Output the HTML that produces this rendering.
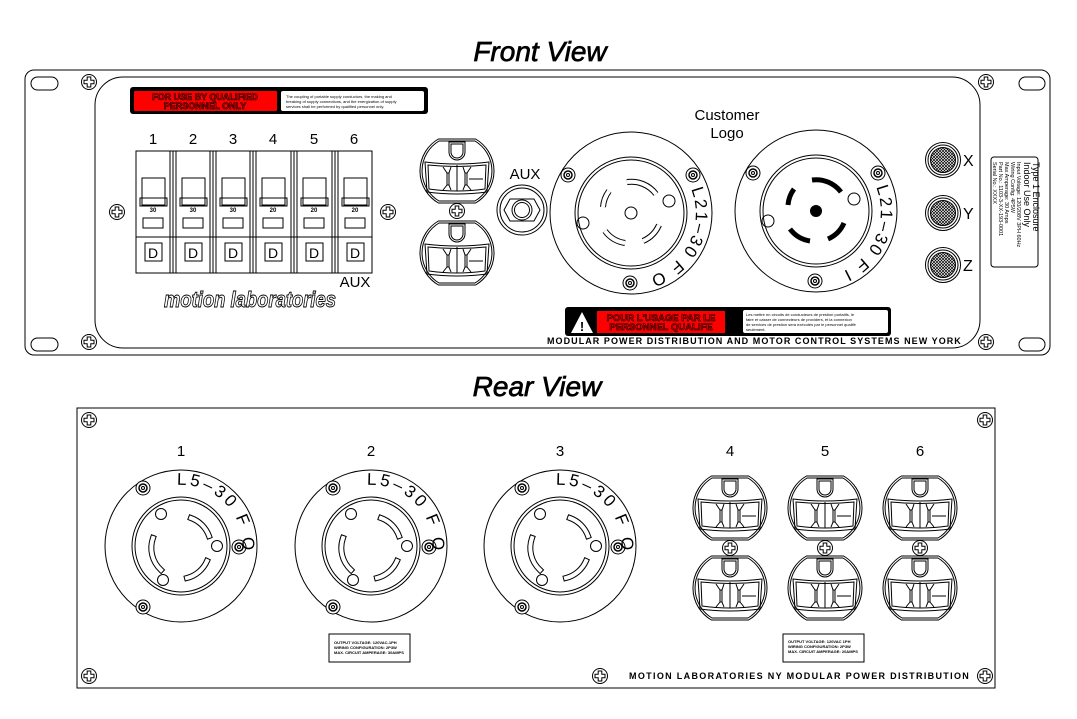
<!DOCTYPE html>
<html><head><meta charset="utf-8"><style>
html,body{margin:0;padding:0;background:#fff}
svg{display:block}
text{font-family:"Liberation Sans",sans-serif}
</style></head><body>
<svg width="1077" height="719" viewBox="0 0 1077 719" xmlns="http://www.w3.org/2000/svg">
<defs>
<pattern id="mesh" width="3" height="3" patternUnits="userSpaceOnUse">
<rect width="3" height="3" fill="#fff"/><path d="M0,0L3,3M3,0L0,3" stroke="#000" stroke-width="0.7"/>
</pattern>
<g id="screw"><circle r="7.5" fill="#fff" stroke="#000" stroke-width="1"/><path d="M-1.8,-5h3.6v3.2h3.2v3.6h-3.2v3.2h-3.6v-3.2h-3.2v-3.6h3.2z" fill="none" stroke="#000" stroke-width="1"/></g>
<g id="mscrew"><circle r="7" fill="#fff" stroke="#000"/><circle r="4" fill="none" stroke="#000" stroke-width="1.5"/><circle r="1.5"/></g>
<g id="outlet" fill="none" stroke="#000" stroke-width="1">
<path d="M-18.6,-32H18.6A37,37 0 0 1 18.6,32H-18.6A37,37 0 0 1 -18.6,-32Z" fill="#fff"/>
<path d="M-18,-30H18A35,35 0 0 1 18,30H-18A35,35 0 0 1 -18,-30Z"/>
<path d="M-8,-29v10a8,8 0 0 0 16,0v-10z"/>
<path d="M-6,-27v8a6,6 0 0 0 12,0v-8z"/>
<path d="M-32,-9Q0,-5 32,-9L30,21Q0,25 -30,21Z"/>
<path d="M-29,-6Q0,-3 29,-6L28,18Q0,22 -28,18Z"/>
<path d="M0,-6V20M-14,-4L-10,2V14L-14,19M-6,-4L-8,2V14L-6,19M-10,2H-8M-10,14H-8M14,-4L10,2V14L14,19M6,-4L8,2V14L6,19M10,2H8M10,14H8M12,8H26"/>
</g>
<g id="l530" fill="none" stroke="#000" stroke-width="1">
<circle r="76" fill="#fff"/><circle r="49"/><circle r="46"/>
<circle cx="-20" cy="-32" r="5.5"/><circle cx="36" cy="0" r="5.5"/><circle cx="-18" cy="34" r="5.5"/>
<path d="M10,-28A30,30 0 0 1 28,-10M-28,-8A30,30 0 0 0 -20,24M26,15A30,30 0 0 1 6,32" stroke-width="6" stroke-linecap="square"/>
<path d="M10,-28A30,30 0 0 1 28,-10M-28,-8A30,30 0 0 0 -20,24M26,15A30,30 0 0 1 6,32" stroke="#fff" stroke-width="4" stroke-linecap="square"/>
<use href="#mscrew" x="-38" y="-58"/><use href="#mscrew" x="-38" y="61"/><use href="#mscrew" x="58" y="1"/>
</g>
<path id="arc5" d="M-4,-61A61,61 0 0 1 61,8"/>
<path id="arc21" d="M60,-24A66,66 0 0 1 -34,58"/>
<g id="l21base" fill="none" stroke="#000" stroke-width="1">
<circle r="81" fill="#fff"/><circle r="56"/><circle r="53"/>
<circle cx="38" cy="-12" r="6"/><circle cx="-48" cy="10" r="6"/>
<use href="#mscrew" x="-63" y="-38"/><use href="#mscrew" x="62" y="-38"/><use href="#mscrew" x="-1" y="70"/>
</g>
<g id="breaker" fill="none" stroke="#000" stroke-width="1">
<path d="M6,27h23v27h-23z M6,27v20h23v-20"/>
<path d="M4,47h27v8h-27z"/>
<rect x="7" y="67" width="20" height="10"/>
<rect x="9" y="92" width="17" height="18"/>
</g>
<g id="xyz"><circle r="17.5" fill="#fff" stroke="#000"/><circle r="15" fill="none" stroke="#000"/><circle r="12.5" fill="url(#mesh)" stroke="#000"/></g>
</defs>

<!-- FRONT -->
<text x="540" y="61" font-size="28" font-style="italic" text-anchor="middle" stroke="#000" stroke-width="0.7">Front View</text>
<rect x="25" y="70" width="1025" height="285" rx="9" fill="none" stroke="#000"/>
<rect x="31" y="77" width="27" height="13" rx="6.5" fill="none" stroke="#000"/>
<rect x="31" y="338" width="27" height="13" rx="6.5" fill="none" stroke="#000"/>
<rect x="1019" y="77" width="26" height="13" rx="6.5" fill="none" stroke="#000"/>
<rect x="1019" y="338" width="26" height="13" rx="6.5" fill="none" stroke="#000"/>
<rect x="95" y="77" width="885" height="271" rx="28" fill="none" stroke="#000"/>
<use href="#screw" x="89" y="82"/><use href="#screw" x="89" y="342"/>
<use href="#screw" x="986" y="82"/><use href="#screw" x="986" y="342"/>
<use href="#screw" x="117" y="212"/><use href="#screw" x="388" y="212"/>

<rect x="130" y="87" width="298" height="27" rx="3" fill="#000"/>
<rect x="134" y="91" width="143" height="20" rx="1" fill="#f00"/>
<rect x="281" y="91" width="143" height="20" rx="2" fill="#fff"/>
<text x="205" y="100" font-size="9" font-weight="bold" text-anchor="middle" fill="#f00" stroke="#000" stroke-width="0.6">FOR USE BY QUALIFIED</text>
<text x="205" y="109" font-size="9" font-weight="bold" text-anchor="middle" fill="#f00" stroke="#000" stroke-width="0.6">PERSONNEL ONLY</text>
<text x="286" y="98" font-size="4" >The coupling of portable supply conductors, the making and</text>
<text x="286" y="103" font-size="4">breaking of supply connections, and the energization of supply</text>
<text x="286" y="108" font-size="4">services shall be performed by qualified personnel only.</text>

<g font-size="15" text-anchor="middle"><text x="153" y="144">1</text><text x="193" y="144">2</text><text x="233" y="144">3</text><text x="273" y="144">4</text><text x="314" y="144">5</text><text x="354" y="144">6</text></g>
<rect x="136" y="151" width="236" height="122" fill="none" stroke="#000"/>
<line x1="136" y1="237" x2="372" y2="237" stroke="#000"/>
<g stroke="#000" fill="none">
<path d="M170,151V273M173,151V273M176,151V273"/>
<path d="M210,151V273M213,151V273M216,151V273"/>
<path d="M250,151V273M253,151V273M256,151V273"/>
<path d="M291,151V273M294,151V273M297,151V273"/>
<path d="M332,151V273M335,151V273M338,151V273"/>
</g>
<use href="#breaker" x="136" y="151"/><use href="#breaker" x="176" y="151"/><use href="#breaker" x="216" y="151"/>
<use href="#breaker" x="256" y="151"/><use href="#breaker" x="297" y="151"/><use href="#breaker" x="338" y="151"/>
<g font-size="6" font-weight="bold" text-anchor="middle"><text x="153" y="212">30</text><text x="193" y="212">30</text><text x="233" y="212">30</text><text x="273" y="212">20</text><text x="314" y="212">20</text><text x="355" y="212">20</text></g>
<g font-size="14" text-anchor="middle"><text x="153" y="258">D</text><text x="193" y="258">D</text><text x="233" y="258">D</text><text x="273" y="258">D</text><text x="314" y="258">D</text><text x="355" y="258">D</text></g>
<text x="355" y="287" font-size="15" text-anchor="middle">AUX</text>
<text x="164" y="307" font-size="22" font-weight="bold" font-style="italic" fill="#fff" stroke="#000" stroke-width="0.9" textLength="172" lengthAdjust="spacingAndGlyphs">motion laboratories</text>

<use href="#outlet" x="457" y="171"/><use href="#outlet" x="457" y="253"/>
<use href="#screw" x="457" y="211"/>
<text x="525" y="179" font-size="15" text-anchor="middle">AUX</text>
<circle cx="522" cy="210" r="25" fill="none" stroke="#000"/>
<circle cx="522" cy="210" r="22" fill="none" stroke="#000"/>
<path d="M510,199H534L540,210L534,221H510L504,210Z" fill="none" stroke="#000"/>
<circle cx="522" cy="210" r="10" fill="none" stroke="#000"/><circle cx="522" cy="210" r="7.5" fill="none" stroke="#000"/>

<text x="727" y="120" font-size="15" text-anchor="middle">Customer</text>
<text x="727" y="138" font-size="15" text-anchor="middle">Logo</text>
<g transform="translate(631,213)">
<use href="#l21base"/>
<circle r="6" fill="none" stroke="#000"/>
<g fill="none" stroke="#000" stroke-width="6"><path d="M-22,-22A31,31 0 0 0 -28,-6M-4,-31A31,31 0 0 1 25,-19M28,12A31,31 0 0 1 12,28M-6,30A31,31 0 0 1 -26,18"/></g>
<g fill="none" stroke="#fff" stroke-width="4"><path d="M-22,-22A31,31 0 0 0 -28,-6M-4,-31A31,31 0 0 1 25,-19M28,12A31,31 0 0 1 12,28M-6,30A31,31 0 0 1 -26,18"/></g>
<text font-size="17" letter-spacing="2"><textPath href="#arc21">L21–30 F O</textPath></text>
</g>
<g transform="translate(816,211)">
<use href="#l21base"/>
<circle r="6"/>
<g fill="none" stroke="#000" stroke-width="5"><path d="M-22,-22A31,31 0 0 0 -28,-6M-4,-31A31,31 0 0 1 25,-19M28,12A31,31 0 0 1 12,28M-6,30A31,31 0 0 1 -26,18"/></g>
<text font-size="17" letter-spacing="2"><textPath href="#arc21">L21–30 F I</textPath></text>
</g>

<use href="#xyz" x="943" y="160"/><use href="#xyz" x="943" y="213"/><use href="#xyz" x="943" y="265"/>
<g font-size="16"><text x="963" y="166">X</text><text x="963" y="219">Y</text><text x="963" y="271">Z</text></g>
<rect x="991" y="157" width="47" height="110" rx="3" fill="none" stroke="#000"/>
<g transform="translate(1033,162) rotate(90)" font-size="9">
<text x="0" y="0">Type 1 Enclosure</text>
<text x="0" y="9">Indoor Use Only</text>
<text x="0" y="16" font-size="5.5">Input Voltage: 120/208V 3PH 60Hz</text>
<text x="0" y="22" font-size="5.5">Wiring Config: 4P5W</text>
<text x="0" y="28" font-size="5.5">Max Amperage: 30 Amps</text>
<text x="0" y="34" font-size="5.5">Part No.:      1103-3-XX-193-0001</text>
<text x="0" y="40" font-size="5.5">Serial No.:    XXXX</text>
</g>

<rect x="565" y="307" width="326" height="29" rx="3" fill="#000"/>
<path d="M571,333L582,312L593,333Z" fill="#fff"/>
<text x="582" y="331" font-size="13" font-weight="bold" text-anchor="middle">!</text>
<rect x="597" y="311" width="128" height="22" fill="#f00"/>
<rect x="743" y="310" width="145" height="23" rx="2" fill="#fff"/>
<text x="661" y="321" font-size="9.5" font-weight="bold" text-anchor="middle" fill="#f00" stroke="#000" stroke-width="0.6">POUR L'USAGE PAR LE</text>
<text x="661" y="330" font-size="9.5" font-weight="bold" text-anchor="middle" fill="#f00" stroke="#000" stroke-width="0.6">PERSONNEL QUALIFE</text>
<g font-size="4"><text x="746" y="316">Les mettre en circuits de conducteurs de prestion portatifs, le</text><text x="746" y="321">faire et casser de connecteurs de providers, et la connexion</text><text x="746" y="326">de services de prestion sera exécutés par le personnel qualifé</text><text x="746" y="331">seulement.</text></g>
<text x="547" y="344" font-size="9" font-weight="bold" letter-spacing="1.2" textLength="415" lengthAdjust="spacing">MODULAR POWER DISTRIBUTION AND MOTOR CONTROL SYSTEMS  NEW YORK</text>

<!-- REAR -->
<text x="537" y="396" font-size="28" font-style="italic" text-anchor="middle" stroke="#000" stroke-width="0.7">Rear View</text>
<rect x="77" y="408" width="918" height="280" fill="none" stroke="#000"/>
<use href="#screw" x="89" y="420"/><use href="#screw" x="985" y="420"/>
<use href="#screw" x="89" y="676"/><use href="#screw" x="985" y="676"/><use href="#screw" x="600" y="676"/>
<g font-size="15" text-anchor="middle"><text x="181" y="456">1</text><text x="371" y="456">2</text><text x="560" y="456">3</text><text x="730" y="456">4</text><text x="825" y="456">5</text><text x="920" y="456">6</text></g>
<g transform="translate(181,546)"><use href="#l530"/><text font-size="17" letter-spacing="3"><textPath href="#arc5">L5–30 F O</textPath></text></g>
<g transform="translate(371,546)"><use href="#l530"/><text font-size="17" letter-spacing="3"><textPath href="#arc5">L5–30 F O</textPath></text></g>
<g transform="translate(560,546)"><use href="#l530"/><text font-size="17" letter-spacing="3"><textPath href="#arc5">L5–30 F O</textPath></text></g>
<use href="#outlet" x="730" y="508"/><use href="#outlet" x="730" y="588"/><use href="#screw" x="730" y="548"/>
<use href="#outlet" x="825" y="508"/><use href="#outlet" x="825" y="588"/><use href="#screw" x="825" y="548"/>
<use href="#outlet" x="920" y="508"/><use href="#outlet" x="920" y="588"/><use href="#screw" x="920" y="548"/>
<rect x="329" y="634" width="81" height="28" fill="none" stroke="#000"/>
<g font-size="4" font-weight="bold"><text x="334" y="644">OUTPUT VOLTAGE: 120VAC-1PH</text><text x="334" y="649">WIRING CONFIGURATION: 2P3W</text><text x="334" y="654">MAX. CIRCUIT AMPERAGE: 30AMPS</text></g>
<rect x="783" y="634" width="81" height="28" fill="none" stroke="#000"/>
<g font-size="4" font-weight="bold"><text x="788" y="643">OUTPUT VOLTAGE: 120VAC 1PH</text><text x="788" y="648">WIRING CONFIGURATION: 2P3W</text><text x="788" y="653">MAX. CIRCUIT AMPERAGE: 20AMPS</text></g>
<text x="629" y="679" font-size="9" font-weight="bold" letter-spacing="1.2" textLength="341" lengthAdjust="spacing">MOTION LABORATORIES  NY     MODULAR POWER DISTRIBUTION</text>
</svg>
</body></html>
